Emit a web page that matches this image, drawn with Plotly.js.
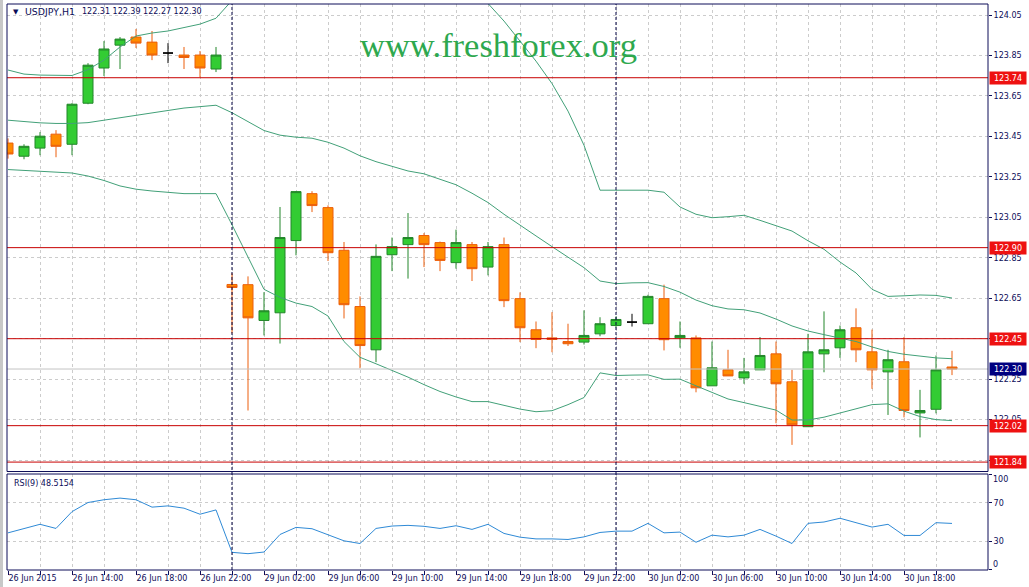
<!DOCTYPE html>
<html><head><meta charset="utf-8">
<script src="https://cdn.plot.ly/plotly-3.0.1.min.js"></script>
<style>html,body{margin:0;padding:0;background:#fff;}#chart{width:1029px;height:587px;}</style>
</head><body><div id="chart"></div>
<script>
// ---- data (hourly bars, USDJPY H1) ----
const symbol = "USDJPY,H1";
const timeLabels = ["26 Jun 2015","26 Jun 14:00","26 Jun 18:00","26 Jun 22:00","29 Jun 02:00","29 Jun 06:00","29 Jun 10:00","29 Jun 14:00","29 Jun 18:00","29 Jun 22:00","30 Jun 02:00","30 Jun 06:00","30 Jun 10:00","30 Jun 14:00","30 Jun 18:00"];
const open = [123.417,123.352,123.392,123.461,123.411,123.614,123.788,123.901,123.941,123.916,123.862,123.852,123.852,123.783,122.718,122.717,122.540,122.578,122.935,123.167,123.098,122.887,122.609,122.395,122.865,122.915,122.960,122.925,122.826,122.915,122.804,122.915,122.648,122.494,122.454,122.436,122.433,122.474,122.515,122.532,122.524,122.648,122.454,122.454,122.217,122.296,122.256,122.296,122.375,122.237,122.015,122.375,122.405,122.504,122.385,122.286,122.336,122.083,122.101,122.31];
const high = [123.440,123.411,123.471,123.481,123.614,123.812,123.921,123.941,123.981,123.971,123.911,123.892,123.872,123.892,122.774,122.758,122.680,123.101,123.180,123.179,123.109,122.928,122.659,122.916,122.950,123.071,122.972,122.930,122.989,122.928,122.928,122.950,122.679,122.535,122.581,122.524,122.590,122.556,122.560,122.573,122.667,122.717,122.535,122.466,122.436,122.395,122.355,122.458,122.436,122.296,122.474,122.585,122.515,122.600,122.495,122.395,122.458,122.197,122.367,122.39];
const low = [123.340,123.337,123.357,123.347,123.357,123.609,123.748,123.783,123.887,123.827,123.812,123.783,123.743,123.768,122.476,122.095,122.466,122.426,122.862,123.076,122.834,122.550,122.304,122.334,122.784,122.747,122.804,122.784,122.796,122.735,122.763,122.606,122.433,122.403,122.383,122.414,122.421,122.462,122.505,122.510,122.524,122.392,122.405,122.185,122.217,122.266,122.227,122.296,122.032,121.925,122.015,122.284,122.355,122.334,122.202,122.073,122.061,121.962,122.081,122.27];
const close = [123.363,123.401,123.451,123.401,123.609,123.802,123.882,123.931,123.911,123.852,123.862,123.840,123.788,123.852,122.703,122.553,122.588,122.950,123.177,123.108,122.875,122.618,122.416,122.857,122.905,122.950,122.915,122.837,122.925,122.796,122.905,122.638,122.504,122.446,122.446,122.425,122.466,122.524,122.545,122.532,122.659,122.445,122.466,122.207,122.306,122.266,122.286,122.367,122.227,122.024,122.385,122.395,122.494,122.395,122.296,122.346,122.095,122.095,122.296,122.30];
const bandUpper = [123.778,123.758,123.753,123.751,123.751,123.780,123.827,123.892,123.946,123.961,123.971,123.988,124.005,124.034,124.122,124.199,124.265,124.258,124.266,124.273,124.280,124.347,124.351,124.323,124.309,124.299,124.306,124.288,124.259,124.199,124.107,124.020,123.921,123.822,123.711,123.575,123.406,123.184,123.184,123.184,123.184,123.174,123.101,123.065,123.048,123.053,123.060,123.035,123.008,122.982,122.934,122.892,122.829,122.775,122.694,122.659,122.662,122.666,122.664,122.651];
const bandMiddle = [123.530,123.523,123.517,123.514,123.514,123.518,123.530,123.543,123.557,123.568,123.580,123.590,123.597,123.604,123.567,123.525,123.479,123.456,123.446,123.441,123.421,123.392,123.354,123.325,123.302,123.279,123.265,123.238,123.211,123.169,123.123,123.065,123.010,122.958,122.905,122.852,122.801,122.735,122.722,122.726,122.727,122.708,122.680,122.641,122.613,122.597,122.593,122.577,122.547,122.513,122.488,122.470,122.453,122.436,122.409,122.387,122.373,122.363,122.355,122.351];
const bandLower = [123.286,123.282,123.278,123.274,123.269,123.254,123.232,123.205,123.189,123.180,123.172,123.167,123.167,123.167,123.013,122.850,122.694,122.654,122.626,122.609,122.562,122.436,122.358,122.326,122.294,122.260,122.223,122.189,122.162,122.139,122.139,122.122,122.102,122.089,122.094,122.124,122.159,122.281,122.268,122.270,122.271,122.249,122.250,122.217,122.185,122.152,122.134,122.116,122.097,122.048,122.048,122.062,122.082,122.105,122.124,122.128,122.092,122.065,122.050,122.045];
const rsi = [38.7,43.0,47.6,43.3,60.8,70.3,73.2,74.9,73.2,65.5,66.8,64.4,58.1,62.6,18.4,17.0,18.7,37.0,44.4,43.0,36.3,30.4,27.6,43.3,45.8,46.5,45.5,43.3,46.1,42.3,47.6,38.1,34.2,32.4,32.4,31.8,34.5,39.1,40.5,40.5,48.6,38.7,39.5,28.9,36.3,34.5,36.3,42.3,35.3,27.6,48.6,50.0,53.9,49.3,44.7,47.6,36.0,36.0,49.3,48.52];
const rsiLast = "48.5154";
const levels = [123.74, 122.90, 122.45, 122.02, 121.84];
const bidPrice = 122.30;
const priceTicks = [121.85,122.05,122.25,122.45,122.65,122.85,123.05,123.25,123.45,123.65,123.85,124.05];
const rsiTicks = [0,30,70,100];
const separatorBars = [14, 38];
const watermark = "www.freshforex.org";

// ---- build ----
const NAVY = '#0c0c58';
const n = open.length;
const idx = open.map((_, i) => i);
const norm = idx.filter(i => open[i] !== close[i]);
const doji = idx.filter(i => open[i] === close[i]);
const pick = (arr, sel) => sel.map(i => arr[i]);

const tickIdx = idx.filter(i => i % 2 === 0);
const tickTxt = tickIdx.map(i => (i % 4 === 0 ? (timeLabels[i / 4] || '') : ''));

const traces = [
  {type:'candlestick', x: norm, open: pick(open,norm), high: pick(high,norm), low: pick(low,norm), close: pick(close,norm),
   increasing:{line:{color:'#23862a', width:1}, fillcolor:'#33cc33'},
   decreasing:{line:{color:'#ec5f0c', width:1}, fillcolor:'#ff8c00'},
   whiskerwidth:0, hoverinfo:'skip', xaxis:'x', yaxis:'y'},
  {type:'candlestick', x: doji, open: pick(open,doji), high: pick(high,doji), low: pick(low,doji), close: pick(close,doji),
   increasing:{line:{color:'#000000', width:1}, fillcolor:'#000000'},
   decreasing:{line:{color:'#000000', width:1}, fillcolor:'#000000'},
   whiskerwidth:0, hoverinfo:'skip', xaxis:'x', yaxis:'y'},
  {type:'scatter', mode:'lines', x: idx, y: bandUpper, line:{color:'#42a078', width:1}, hoverinfo:'skip', xaxis:'x', yaxis:'y'},
  {type:'scatter', mode:'lines', x: idx, y: bandMiddle, line:{color:'#42a078', width:1}, hoverinfo:'skip', xaxis:'x', yaxis:'y'},
  {type:'scatter', mode:'lines', x: idx, y: bandLower, line:{color:'#42a078', width:1}, hoverinfo:'skip', xaxis:'x', yaxis:'y'},
  {type:'scatter', mode:'lines', x: idx, y: rsi, line:{color:'#2f8ad6', width:1}, hoverinfo:'skip', xaxis:'x', yaxis:'y2'}
];

const mainDomain = [0.174, 1];
const rsiDomain = [0, 0.1696];

const shapes = [];
shapes.push({type:'rect', xref:'paper', yref:'paper', x0:-7/981, x1:-4/981, y0:-17/566, y1:1+4/566, fillcolor:'#c8c8c8', line:{width:0}});
levels.forEach(v => shapes.push({type:'line', xref:'paper', yref:'y', x0:0, x1:1, y0:v, y1:v, line:{color:'#c80000', width:1}}));
shapes.push({type:'line', xref:'paper', yref:'y', x0:0, x1:1, y0:bidPrice, y1:bidPrice, line:{color:'#c4c4c4', width:1}});
separatorBars.forEach(b => shapes.push({type:'line', xref:'x', yref:'paper', x0:b, x1:b, y0:0, y1:1, line:{color:'#000040', width:1, dash:'3px,2px'}}));
shapes.push({type:'rect', xref:'paper', yref:'paper', x0:0, x1:1, y0:mainDomain[0], y1:mainDomain[1], line:{color:NAVY, width:1}});
shapes.push({type:'rect', xref:'paper', yref:'paper', x0:0, x1:1, y0:rsiDomain[0], y1:rsiDomain[1], line:{color:NAVY, width:1}});

const annotations = [];
const F = 'DejaVu Sans';
const hdrY = (570-12)/566;
annotations.push({xref:'paper', yref:'paper', x:4/981, y:hdrY, xanchor:'left', yanchor:'middle', showarrow:false,
  text:'\u25BC', font:{family:F, size:7, color:NAVY}});
annotations.push({xref:'paper', yref:'paper', x:16/981, y:hdrY, xanchor:'left', yanchor:'middle', showarrow:false,
  text:symbol, font:{family:F, size:9.4, color:NAVY}});
annotations.push({xref:'paper', yref:'paper', x:73/981, y:hdrY, xanchor:'left', yanchor:'middle', showarrow:false,
  text:[open[n-1],high[n-1],low[n-1],close[n-1]].map(v=>v.toFixed(2)).join(' '),
  font:{family:F, size:8, color:NAVY}});
annotations.push({xref:'paper', yref:'paper', x:(498-7)/981, y:(570-45)/566, xanchor:'center', yanchor:'middle', showarrow:false,
  text: watermark, font:{family:'Liberation Serif', size:34.5, color:'#2ea84e'}});
annotations.push({xref:'paper', yref:'paper', x:5/981, y:(570-483)/566, xanchor:'left', yanchor:'middle', showarrow:false,
  text:'RSI(9) ' + rsiLast, font:{family:F, size:8, color:NAVY}});
levels.forEach(v => annotations.push({xref:'paper', yref:'y', x:1, y:v, xanchor:'left', yanchor:'middle', xshift:1, showarrow:false,
  text:v.toFixed(2), bgcolor:'#ee1111', font:{family:F, size:8, color:'#ffffff'}, width:34, height:10, borderpad:1, align:'center'}));
annotations.push({xref:'paper', yref:'y', x:1, y:bidPrice, xanchor:'left', yanchor:'middle', xshift:1, showarrow:false,
  text:bidPrice.toFixed(2), bgcolor:'#000080', font:{family:F, size:8, color:'#ffffff'}, width:34, height:10, borderpad:1, align:'center'});
[[rsiTicks[3], 94], [rsiTicks[0], 6]].forEach(([t, pos]) => annotations.push({xref:'paper', yref:'y2', x:1, y:pos, xanchor:'left', yanchor:'middle', xshift:3, showarrow:false,
  text:String(t), font:{family:F, size:8, color:NAVY}}));

const layout = {
  width:1029, height:587, margin:{l:7, r:41, t:4, b:17, pad:0},
  paper_bgcolor:'#ffffff', plot_bgcolor:'#ffffff', showlegend:false,
  font:{family:F, size:8, color:NAVY},
  boxgap:0.375, boxgroupgap:0, hovermode:false, dragmode:false,
  xaxis:{type:'linear', range:[-0.0625, 61.25], anchor:'y2', tickmode:'array', tickvals:tickIdx, ticktext:tickTxt,
    ticks:'outside', ticklen:4, tickcolor:NAVY, showgrid:true, gridcolor:'#cccccc', griddash:'3px,3px', gridwidth:1,
    zeroline:false, showline:false, rangeslider:{visible:false}, ticklabelposition:'outside right', fixedrange:true,
    tickfont:{family:F, size:8, color:NAVY}},
  yaxis:{domain:mainDomain, range:[121.7934, 124.1044], side:'right', anchor:'x', tickmode:'array', tickvals:priceTicks,
    ticktext:priceTicks.map(v=>v.toFixed(2)), ticks:'outside', ticklen:3, tickcolor:NAVY, showgrid:true, gridcolor:'#cccccc',
    griddash:'3px,3px', zeroline:false, showline:false, fixedrange:true, tickfont:{family:F, size:8, color:NAVY}},
  yaxis2:{domain:rsiDomain, range:[0,100], side:'right', anchor:'x', tickmode:'array', tickvals:rsiTicks,
    ticktext:rsiTicks.map(t => (t===0||t===100) ? '' : String(t)), ticks:'outside', ticklen:3, tickcolor:NAVY, showgrid:true,
    gridcolor:'#cccccc', griddash:'3px,3px', zeroline:false, showline:false, fixedrange:true, tickfont:{family:F, size:8, color:NAVY}},
  shapes: shapes, annotations: annotations
};

Plotly.newPlot('chart', traces, layout, {staticPlot:true, displayModeBar:false});
</script>
</body></html>
